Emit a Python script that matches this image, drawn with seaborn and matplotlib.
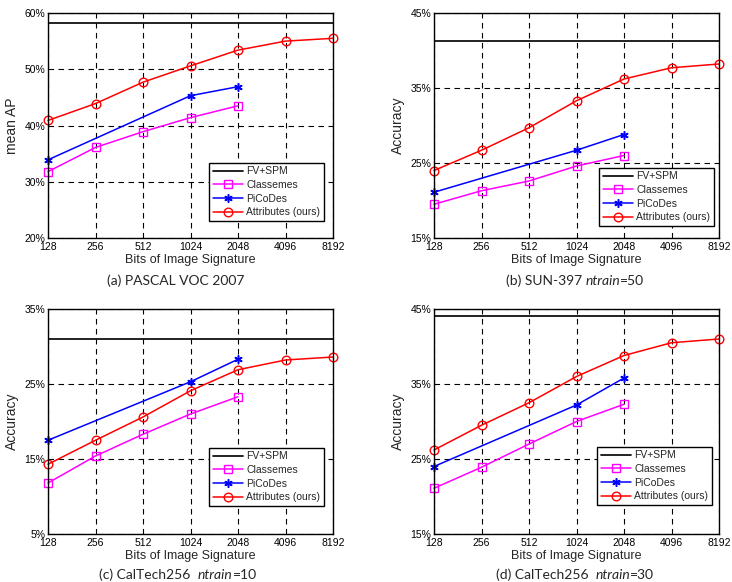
import numpy as np
import pandas as pd
import matplotlib
matplotlib.use("Agg")
import matplotlib.pyplot as plt
import seaborn as sns

bits = [128, 256, 512, 1024, 2048, 4096, 8192]
bits_short = [128, 256, 512, 1024, 2048]
bits_pico = [128, 1024, 2048]

# (a) PASCAL VOC 2007
a_fv = 58.3
a_classemes = [31.8, 36.1, 38.9, 41.4, 43.5]
a_picodes = [33.9, 45.3, 46.9]
a_attributes = [40.9, 43.9, 47.7, 50.6, 53.4, 55.0, 55.5]

# (b) SUN-397 ntrain=50
b_fv = 41.25
b_classemes = [19.5, 21.3, 22.6, 24.6, 26.0]
b_picodes = [21.1, 26.7, 28.8]
b_attributes = [24.0, 26.7, 29.7, 33.3, 36.2, 37.7, 38.2]

# (c) CalTech256 ntrain=10
c_fv = 31.0
c_classemes = [11.8, 15.4, 18.3, 21.0, 23.3]
c_picodes = [17.5, 25.3, 28.3]
c_attributes = [14.3, 17.5, 20.6, 24.1, 26.9, 28.2, 28.6]

# (d) CalTech256 ntrain=30
d_fv = 44.0
d_classemes = [21.1, 23.9, 27.0, 30.0, 32.3]
d_picodes = [24.0, 32.2, 35.8]
d_attributes = [26.2, 29.5, 32.5, 36.0, 38.8, 40.5, 41.0]

panels = [
    ("a", a_fv, a_classemes, a_picodes, a_attributes, [20, 30, 40, 50, 60], "mean AP"),
    ("b", b_fv, b_classemes, b_picodes, b_attributes, [15, 25, 35, 45], "Accuracy"),
    ("c", c_fv, c_classemes, c_picodes, c_attributes, [5, 15, 25, 35], "Accuracy"),
    ("d", d_fv, d_classemes, d_picodes, d_attributes, [15, 25, 35, 45], "Accuracy"),
]
captions = {
    "a": [("(a) PASCAL VOC 2007", "normal")],
    "b": [("(b) SUN-397 ", "normal"), ("ntrain", "italic"), ("=50", "normal")],
    "c": [("(c) CalTech256  ", "normal"), ("ntrain", "italic"), ("=10", "normal")],
    "d": [("(d) CalTech256  ", "normal"), ("ntrain", "italic"), ("=30", "normal")],
}

sns.set_theme(style="white")
plt.rcParams['font.family'] = ['Liberation Sans', 'DejaVu Sans']

W, H = 732, 582
fig = plt.figure(figsize=(W / 100, H / 100), dpi=100)

boxes = {
    "a": (48, 13, 333, 238),
    "b": (434, 13, 719, 238),
    "c": (48, 309, 333, 534),
    "d": (434, 309, 719, 534),
}
# legend gaps (right, bottom) in pixels
leg_gap = {"a": (9, 17), "b": (5, 12), "c": (9, 28), "d": (7, 29)}
cap_y = {"a": 281, "b": 281, "c": 575, "d": 575}
cap_xc = {"a": 176, "b": 575, "c": 178, "d": 575}

asterisk = (6, 2, 0)

for key, fv, cls, pico, attr, yt, ylab in panels:
    l, t, r, b = boxes[key]
    ax = fig.add_axes([l / W, 1 - b / H, (r - l) / W, (b - t) / H])
    ax.set_xscale("log", base=2)
    ax.set_xlim(128, 8192)
    ax.set_ylim(yt[0], yt[-1])

    sns.lineplot(x=[128, 8192], y=[fv, fv], ax=ax, color="#111111", lw=1.3,
                 label="FV+SPM")
    sns.lineplot(x=bits_short, y=cls, ax=ax, color="#ff00ff", lw=1.1,
                 marker="s", markersize=5.2, markerfacecolor="none",
                 markeredgecolor="#ff00ff", markeredgewidth=1.0, label="Classemes",
                 clip_on=False)
    sns.lineplot(x=bits_pico, y=pico, ax=ax, color="#0000ff", lw=1.1,
                 marker=asterisk, markersize=6, markeredgecolor="#0000ff",
                 markeredgewidth=1.1, label="PiCoDes", clip_on=False)
    sns.lineplot(x=bits, y=attr, ax=ax, color="#ff0000", lw=1.1,
                 marker="o", markersize=6.2, markerfacecolor="none",
                 markeredgecolor="#ff0000", markeredgewidth=1.0,
                 label="Attributes (ours)", clip_on=False)

    ax.set_xticks(bits)
    ax.set_xticklabels([str(v) for v in bits])
    ax.minorticks_off()
    ax.set_yticks(yt)
    ax.set_yticklabels([f"{v}%" for v in yt])
    ax.grid(True, color="black", linestyle=(0, (5, 4)), lw=0.8)
    ax.tick_params(axis="both", labelsize=7.5, length=3, direction="in",
                   colors="black")
    ax.tick_params(axis="x", pad=3)
    ax.tick_params(axis="y", pad=2)
    for s in ax.spines.values():
        s.set_color("black")
        s.set_linewidth(1.0)
    ax.set_xlabel("Bits of Image Signature", fontsize=9, labelpad=1)
    ax.set_ylabel(ylab, fontsize=10, labelpad=4)

    gr, gb = leg_gap[key]
    leg = ax.legend(loc="lower right",
                    bbox_to_anchor=(1 - gr / (r - l), gb / (b - t)),
                    borderaxespad=0,
                    fontsize=7.5, frameon=True, fancybox=False,
                    framealpha=1, edgecolor="black", handlelength=2.9,
                    borderpad=0.35, labelspacing=0.35, handletextpad=0.3)
    leg.get_frame().set_linewidth(1.0)

    # caption
    parts = captions[key]
    renderer = fig.canvas.get_renderer()
    texts = []
    widths = []
    for p, st in parts:
        tt = fig.text(0, 0, p, fontsize=10, style=st, family=["Lato", "DejaVu Sans"])
        bb = tt.get_window_extent(renderer=renderer)
        widths.append(bb.width)
        texts.append(tt)
    total = sum(widths)
    x0 = cap_xc[key] - total / 2
    for tt, w in zip(texts, widths):
        tt.set_position((x0 / W, 1 - cap_y[key] / H))
        tt.set_va("center")
        x0 += w

fig.savefig("out.png", dpi=100)
